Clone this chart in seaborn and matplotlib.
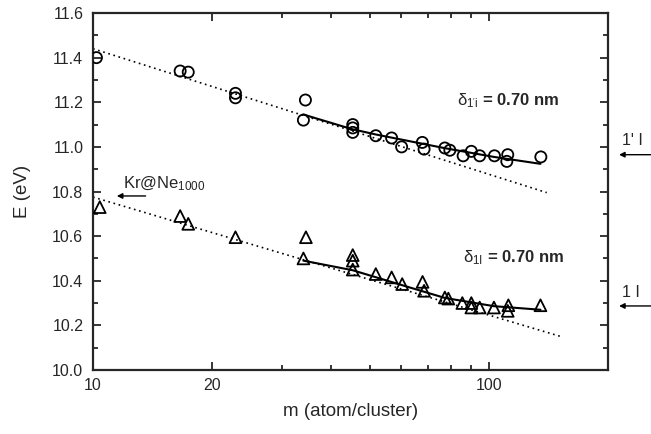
"""
Cluster energy vs size (Kr@Ne), recreated with seaborn
"""

import numpy as np
import pandas as pd
import matplotlib
matplotlib.use('Agg')
import matplotlib.pyplot as plt
from matplotlib.ticker import FixedLocator, NullFormatter, MultipleLocator, FormatStrFormatter
import seaborn as sns

# circles: 1'i series
circ_m = [10.2, 16.6, 17.4, 22.9, 22.9, 34.4, 34.0, 45.3, 45.3, 45.3, 51.8, 56.8,
          60.2, 67.9, 68.6, 77.4, 79.7, 86.1, 90.3, 94.8, 103.3, 111.6, 111.0, 135.3]
circ_E = [11.40, 11.34, 11.335, 11.24, 11.22, 11.21, 11.12, 11.10, 11.085, 11.065, 11.05, 11.04,
          11.00, 11.02, 10.99, 10.995, 10.985, 10.96, 10.98, 10.96, 10.96, 10.965, 10.935, 10.955]

# triangles: 1I series
tri_m = [10.4, 16.6, 17.4, 22.9, 34.5, 34.0, 45.3, 45.3, 45.3, 51.8, 56.8, 60.4,
         68.0, 68.6, 77.4, 79.0, 85.7, 90.3, 90.3, 94.8, 103.0, 112.0, 111.6, 135.0]
tri_E = [10.73, 10.69, 10.655, 10.595, 10.595, 10.50, 10.515, 10.49, 10.45, 10.43, 10.415, 10.385,
         10.395, 10.355, 10.325, 10.32, 10.30, 10.30, 10.28, 10.28, 10.28, 10.29, 10.265, 10.29]

# fitted curves (solid)
fit_circ_m = [34, 45, 52, 77, 103, 135]
fit_circ_E = [11.145, 11.08, 11.055, 10.995, 10.955, 10.924]
fit_tri_m = [34, 45.3, 60.4, 77.4, 103, 135]
fit_tri_E = [10.49, 10.447, 10.38, 10.323, 10.286, 10.27]

# linear-in-log trends (dotted)
lin_circ_m = [10, 140]
lin_circ_E = [11.44, 10.795]
lin_tri_m = [10, 152]
lin_tri_E = [10.775, 10.15]

# reference levels
kr_ne_E = 10.78
level_1p_E = 10.965
level_1_E = 10.287

sns.set_style('ticks')
plt.rcParams['font.family'] = ['Liberation Sans', 'DejaVu Sans']
plt.rcParams['mathtext.fontset'] = 'custom'
plt.rcParams['mathtext.rm'] = 'Liberation Sans'
plt.rcParams['mathtext.it'] = 'Liberation Sans'
plt.rcParams['mathtext.bf'] = 'Liberation Sans:bold'

fig = plt.figure(figsize=(6.51, 4.34), dpi=100)
ax = fig.add_axes([0.1429, 0.1475, 0.7911, 0.8225])

circ_df = pd.DataFrame({'m': circ_m, 'E': circ_E})
tri_df = pd.DataFrame({'m': tri_m, 'E': tri_E})

sns.lineplot(x=lin_circ_m, y=lin_circ_E, ax=ax, color='black', lw=1.2, linestyle=(0, (1, 2.2)))
sns.lineplot(x=lin_tri_m, y=lin_tri_E, ax=ax, color='black', lw=1.2, linestyle=(0, (1, 2.2)))
sns.lineplot(x=fit_circ_m, y=fit_circ_E, ax=ax, color='black', lw=1.5)
sns.lineplot(x=fit_tri_m, y=fit_tri_E, ax=ax, color='black', lw=1.5)

sns.scatterplot(data=circ_df, x='m', y='E', ax=ax, marker='o', s=64,
                facecolor='none', edgecolor='black', linewidth=1.3, zorder=3)
sns.scatterplot(data=tri_df, x='m', y='E', ax=ax, marker='^', s=72,
                facecolor='none', edgecolor='black', linewidth=1.3, zorder=3)

ax.set_xscale('log')
ax.set_xlim(10, 200)
ax.set_ylim(10.0, 11.6)
ax.xaxis.set_major_locator(FixedLocator([10, 20, 100]))
ax.xaxis.set_minor_locator(FixedLocator([30, 40, 50, 60, 70, 80, 90, 200]))
ax.xaxis.set_major_formatter(FormatStrFormatter('%d'))
ax.xaxis.set_minor_formatter(NullFormatter())
ax.yaxis.set_major_locator(MultipleLocator(0.2))
ax.yaxis.set_minor_locator(MultipleLocator(0.1))
ax.yaxis.set_major_formatter(FormatStrFormatter('%.1f'))

ax.tick_params(which='both', direction='in', top=True, right=True, width=1.3, labelsize=11.5)
ax.tick_params(which='major', length=5.5)
ax.tick_params(which='minor', length=3.5)
ax.tick_params(axis='y', pad=7)
ax.tick_params(axis='x', pad=6)
for sp in ax.spines.values():
    sp.set_linewidth(1.6)

ax.set_xlabel('m (atom/cluster)', fontsize=13.5, labelpad=7)
ax.set_ylabel('E (eV)', fontsize=13.5, labelpad=15)

ax.text(0.707, 0.754, r"$\delta_{1'\mathrm{i}}$ = 0.70 nm", transform=ax.transAxes,
        fontsize=12, fontweight='bold', va='center', ha='left')
ax.text(0.718, 0.314, r"$\delta_{1\mathrm{I}}$ = 0.70 nm", transform=ax.transAxes,
        fontsize=12, fontweight='bold', va='center', ha='left')

# Kr@Ne1000 marker
ax.annotate('', xy=(11.3, kr_ne_E), xytext=(13.8, kr_ne_E),
            arrowprops=dict(arrowstyle='-|>', color='black', lw=1, mutation_scale=8))
ax.text(11.9, kr_ne_E + 0.035, r'Kr@Ne$_{1000}$', fontsize=12, va='baseline', ha='left')

# right-side level markers
for lvl, lab in [(level_1p_E, "1' I"), (level_1_E, '1 I')]:
    ax.annotate('', xy=(1.016, lvl), xytext=(1.09, lvl), xycoords=('axes fraction', 'data'),
                textcoords=('axes fraction', 'data'),
                arrowprops=dict(arrowstyle='-|>', color='black', lw=1, mutation_scale=8),
                annotation_clip=False)
    ax.text(1.027, lvl + 0.028, lab, transform=ax.get_yaxis_transform(),
            fontsize=11.5, va='bottom', ha='left', clip_on=False)

fig.savefig('out.png', dpi=100)
